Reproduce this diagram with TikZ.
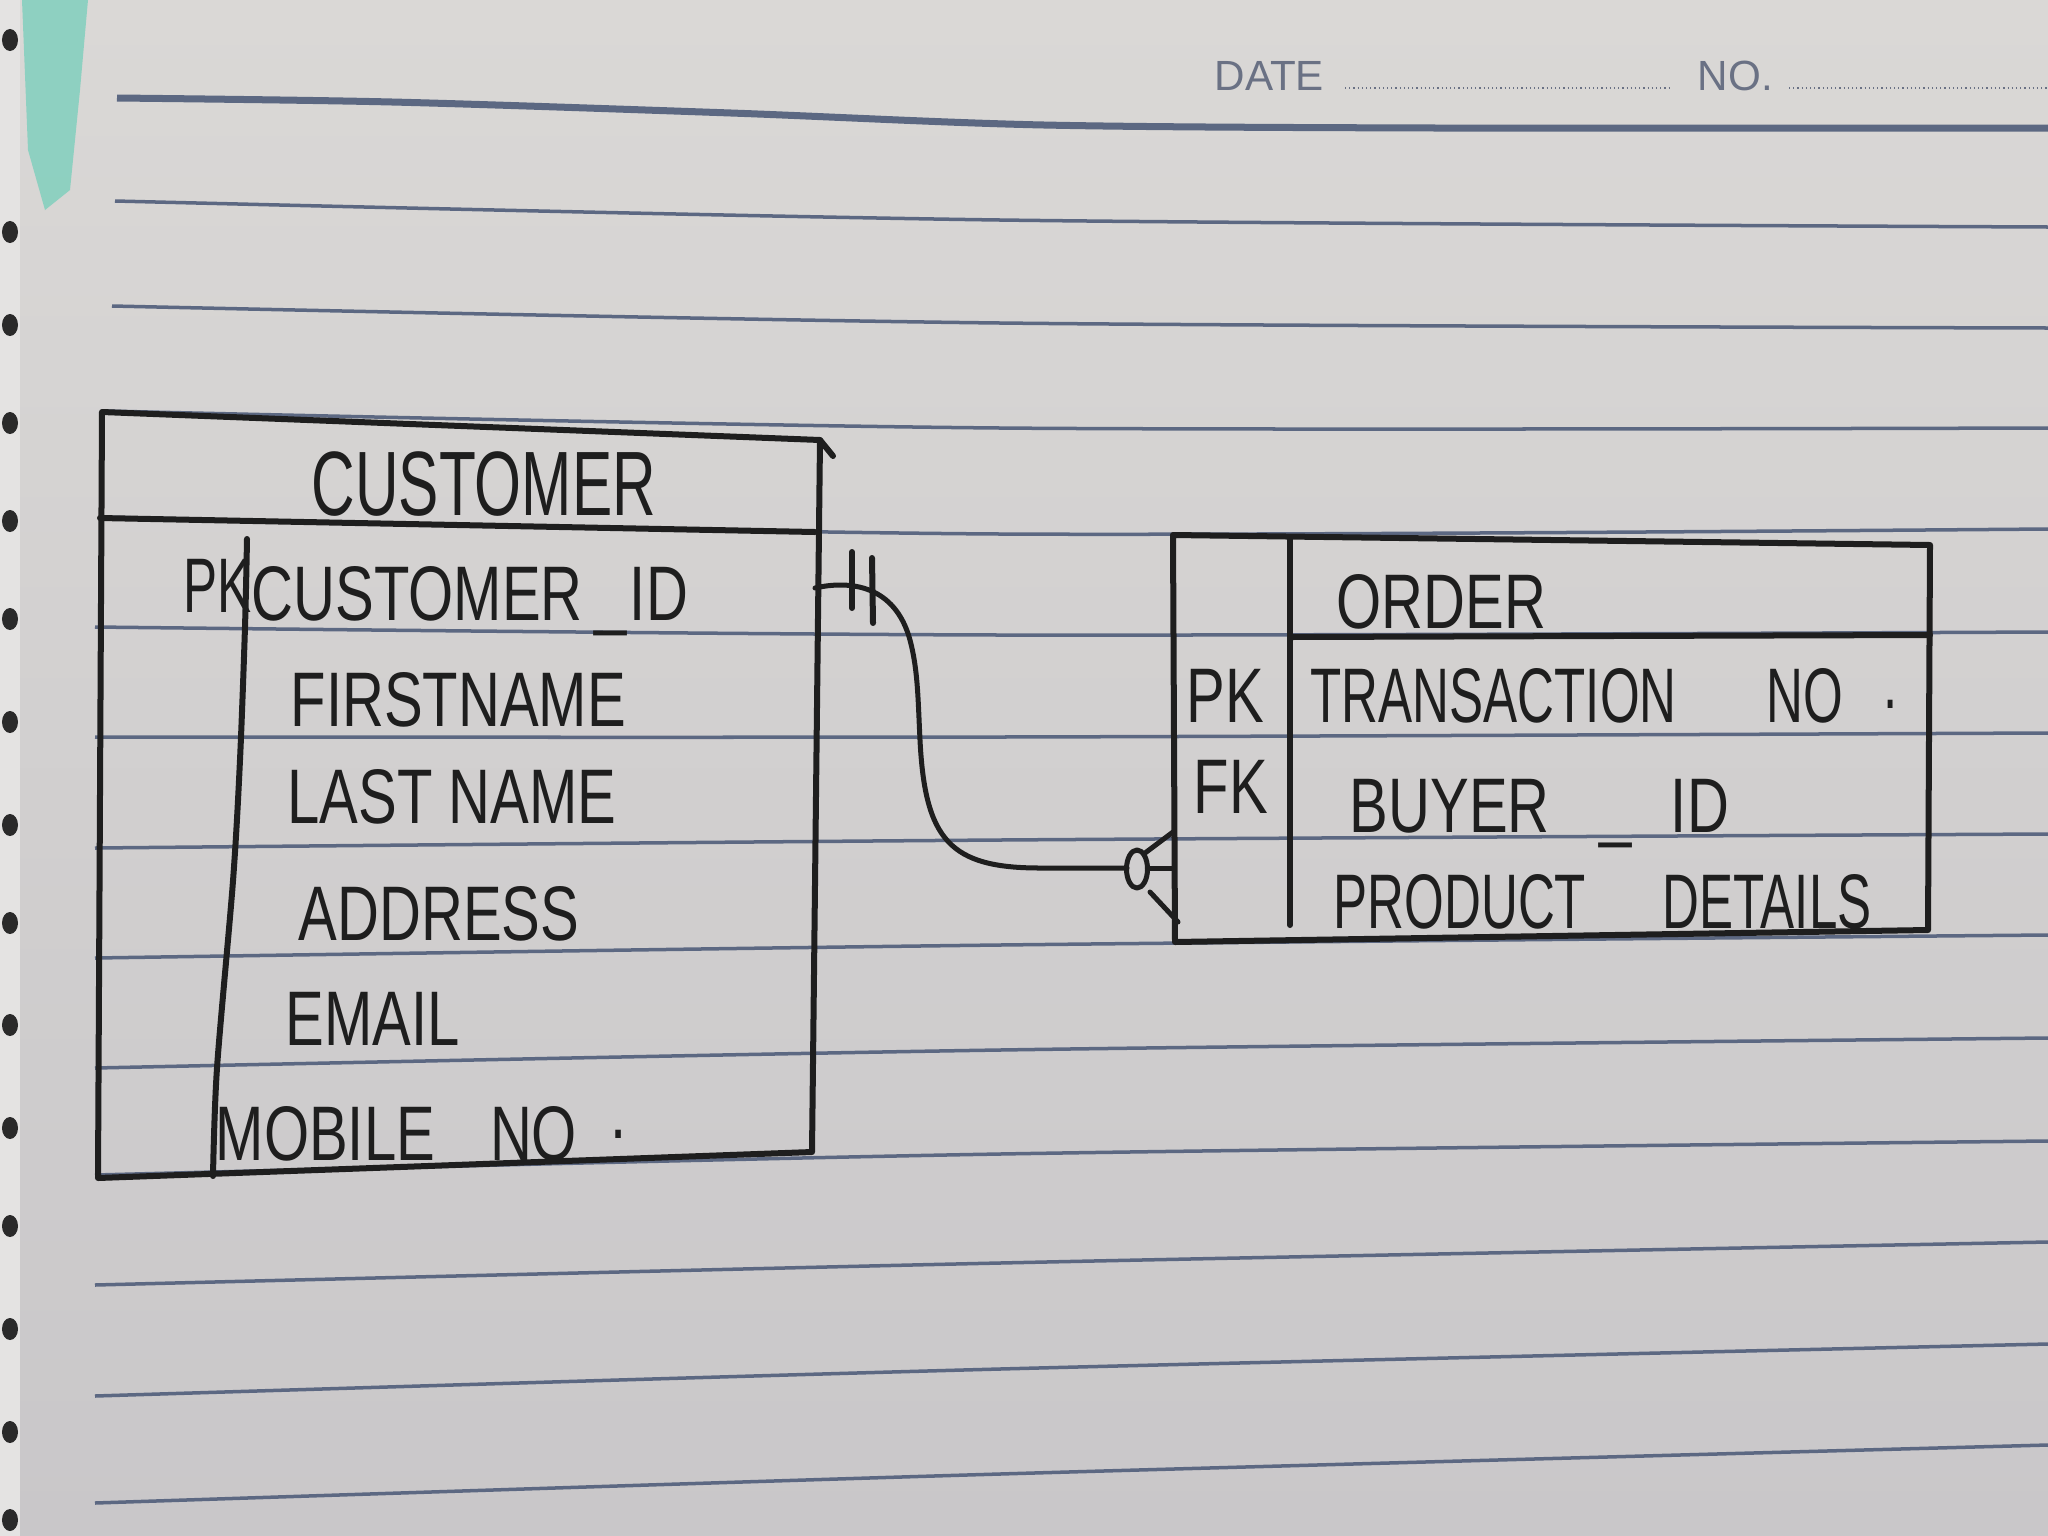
\documentclass[tikz,border=0pt]{standalone}
\usepackage{fontspec}
\newfontfamily\hand[FakeStretch=0.75]{Liberation Sans}
\newfontfamily\handn[FakeStretch=0.66]{Liberation Sans}
\newfontfamily\printed{Liberation Sans}
\definecolor{papertop}{HTML}{DAD8D6}
\definecolor{paperbot}{HTML}{C9C7C9}
\definecolor{rulec}{HTML}{5C6882}
\definecolor{inkc}{HTML}{1E1E1E}
\definecolor{printc}{HTML}{6A7184}
\definecolor{ribbonc}{HTML}{7CCFBC}
\definecolor{holec}{HTML}{2A2A2A}
\definecolor{edgec}{HTML}{E4E3E2}
\tikzset{
  ink/.style={draw=inkc, line width=0.06cm, line cap=round, line join=round},
  conn/.style={draw=inkc, line width=0.05cm, line cap=round, line join=round},
  rule/.style={draw=rulec, line width=0.035cm},
  field/.style={anchor=base west, inner sep=0pt, text=inkc, font=\hand\fontsize{22}{26}\selectfont},
  fieldn/.style={anchor=base west, inner sep=0pt, text=inkc, font=\handn\fontsize{22}{26}\selectfont},
  titletext/.style={anchor=base west, inner sep=0pt, text=inkc, font=\handn\fontsize{26}{30}\selectfont},
  printtext/.style={anchor=base west, inner sep=0pt, text=printc, font=\printed\fontsize{12}{14}\selectfont}
}
\begin{document}
\begin{tikzpicture}[x=0.01cm,y=-0.01cm]
% paper
\shade[top color=papertop, bottom color=paperbot] (0,0) rectangle (2048,1536);
\useasboundingbox (0,0) rectangle (2048,1536);
\fill[edgec] (0,0) rectangle (20,1536);
\foreach \yy in {40,232,325,423,521,619,722,825,923,1025,1128,1226,1329,1432,1520}
  \fill[holec] (10,\yy) ellipse [x radius=0.08cm, y radius=0.11cm];
\fill[ribbonc, opacity=0.8] (22,0) -- (88,0) -- (80,90) -- (70,190) -- (45,210) -- (28,150) -- cycle;

% ruled lines
\draw[draw=rulec, line width=0.07cm] plot[smooth] coordinates {(117,98) (392,102) (731,113) (1044,125) (1436,128) (2048,128)};
\draw[rule] plot[smooth] coordinates {(115,201) (1000,220) (2048,227)};
\draw[rule] plot[smooth] coordinates {(112,306) (1000,323) (2048,328)};
\draw[rule] plot[smooth] coordinates {(105,411) (1000,428) (2048,428)};
\draw[rule] plot[smooth] coordinates {(100,517) (1000,534) (2048,529)};
\draw[rule] plot[smooth] coordinates {(95,627) (1000,635) (2048,632)};
\draw[rule] plot[smooth] coordinates {(95,737) (1000,737) (2048,733)};
\draw[rule] plot[smooth] coordinates {(95,848) (1000,840) (2048,834)};
\draw[rule] plot[smooth] coordinates {(95,958) (1000,945) (2048,935)};
\draw[rule] plot[smooth] coordinates {(95,1068) (1000,1050) (2048,1038)};
\draw[rule] plot[smooth] coordinates {(95,1175) (1000,1154) (2048,1141)};
\draw[rule] plot[smooth] coordinates {(95,1285) (1000,1263) (2048,1242)};
\draw[rule] plot[smooth] coordinates {(95,1396) (1000,1369) (2048,1344)};
\draw[rule] plot[smooth] coordinates {(95,1503) (1000,1474) (2048,1445)};

% printed header
\node[printtext] (date) at (1214,90) {DATE};
\node[printtext] (no) at (1697,90) {NO.};
\draw[draw=printc, line width=0.025cm, dash pattern=on 0.012cm off 0.03cm] (1345,88) -- (1672,88);
\draw[draw=printc, line width=0.025cm, dash pattern=on 0.012cm off 0.03cm] (1789,88) -- (2048,88);

% CUSTOMER table
\coordinate (cTL) at (102,412);
\coordinate (cTR) at (820,440);
\coordinate (cBR) at (812,1152);
\coordinate (cBL) at (98,1178);
\draw[ink] (cTL) -- (cTR) -- (cBR) -- (cBL) -- cycle;
\draw[ink] (cTR) -- (833,456);
\draw[ink] (100,518) -- (815,532);
\draw[ink] plot[smooth] coordinates {(247,539) (245,627) (240,760) (233,881) (217,1068) (213,1176)};
\node[titletext] (custtitle) at (311,515) {CUSTOMER};
\node[fieldn] (pk1) at (183,612) {PK};
\node[field] (custid) at (251,620) {CUSTOMER\hspace{0.12cm}\_\hspace{0.03cm}ID};
\node[field] (fname) at (290,726) {FIRSTNAME};
\node[field] (lname) at (287,823) {LAST NAME};
\node[field] (addr) at (298,940) {ADDRESS};
\node[field] (email) at (285,1045) {EMAIL};
\node[field] (mobile) at (215,1160) {MOBILE \hspace{0.39cm}NO \hspace{0.17cm}\raisebox{0.22cm}{.}};

% ORDER table
\coordinate (oTL) at (1173,535);
\coordinate (oTR) at (1930,545);
\coordinate (oBR) at (1928,930);
\coordinate (oBL) at (1175,942);
\draw[ink] (oTL) -- (oTR) -- (oBR) -- (oBL) -- cycle;
\draw[ink] (1290,537) -- (1290,925);
\draw[ink] (1290,637) -- (1930,635);
\node[field] (ordtitle) at (1336,628) {ORDER};
\node[field] (pk2) at (1186,722) {PK};
\node[fieldn] (txn) at (1310,722) {TRANSACTION \hspace{0.76cm}NO \hspace{0.26cm}\raisebox{0.14cm}{.}};
\node[field] (fk) at (1193,813) {FK};
\node[field] (buyer) at (1349,832) {BUYER \hspace{0.34cm}\_\hspace{0.39cm}ID};
\node[fieldn] (prod) at (1333,928) {PRODUCT \hspace{0.62cm}DETAILS};

% relationship connector
\coordinate (custR) at (815,588);
\coordinate (ordL) at (1173,868);
\coordinate (ordLup) at (1173,832);
\coordinate (ordLdn) at (1178,922);
\draw[conn] (custR) .. controls (850,580) and (895,585) .. (910,640)
   .. controls (918,670) and (918,700) .. (920,740)
   .. controls (925,840) and (950,868) .. (1040,868) -- (1127,868);
% one-and-only-one bars
\draw[ink] (852,552) -- (852,608);
\draw[ink] (872,558) -- (873,623);
% zero-or-many
\draw[conn] (1137,869) ellipse [x radius=0.105cm, y radius=0.19cm];
\draw[conn] (1145,853) -- (ordLup);
\draw[conn] (1148,868) -- (ordL);
\draw[conn] (1150,892) -- (ordLdn);
\end{tikzpicture}
\end{document}
